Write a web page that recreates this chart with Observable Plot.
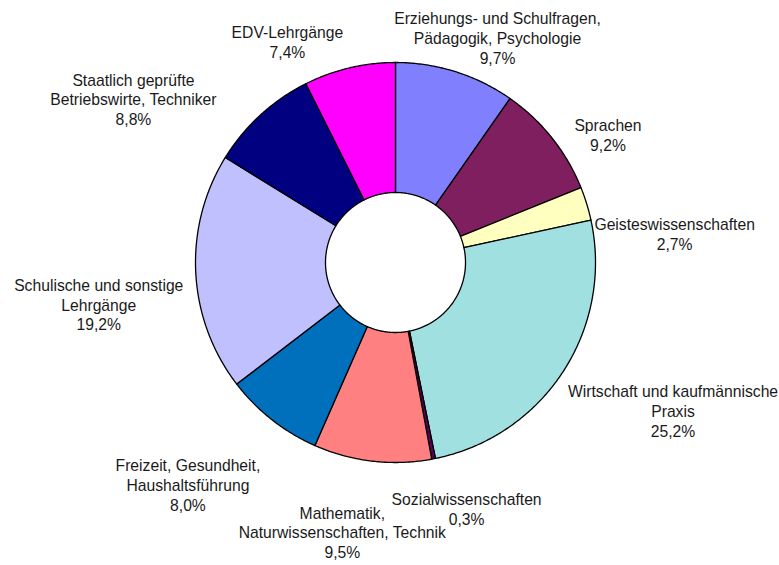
<!DOCTYPE html>
<html>
<head>
<meta charset="utf-8">
<script src="https://cdn.jsdelivr.net/npm/d3@7"></script>
<script src="https://cdn.jsdelivr.net/npm/@observablehq/plot@0.6"></script>
<style>
  html, body { margin: 0; padding: 0; background: #fff; }
  #chart svg { display: block; }
</style>
</head>
<body>
<div id="chart"></div>
<script>
// ---- data ----
const categories = [
  "Erziehungs- und Schulfragen,\nPädagogik, Psychologie",
  "Sprachen",
  "Geisteswissenschaften",
  "Wirtschaft und kaufmännische\nPraxis",
  "Sozialwissenschaften",
  "Mathematik,\nNaturwissenschaften, Technik",
  "Freizeit, Gesundheit,\nHaushaltsführung",
  "Schulische und sonstige\nLehrgänge",
  "Staatlich geprüfte\nBetriebswirte, Techniker",
  "EDV-Lehrgänge"
];
const values = [9.7, 9.2, 2.7, 25.2, 0.3, 9.5, 8.0, 19.2, 8.8, 7.4];
const colors = ["#8080FF", "#7F1F5F", "#FFFFC0", "#A0E0E0", "#5A005A",
                "#FF8080", "#0070BC", "#C0C0FF", "#000080", "#FF00FF"];
// label offsets (px) from the outer edge at each slice's mid-angle
const labelOffsets = [[42, -34], [56, -3], [88, 30], [110, 39], [33, 50],
                      [-30, 71], [-84, 65], [-97, 32], [-127, -16], [-62, -26]];

// ---- geometry ----
const W = 779, H = 565;
const cx = 395, cy = 262, pxPerUnit = 200; // pie center & outer radius in px
const rOuter = 1, rInner = 0.35;
const total = d3.sum(values);
const fmt = v => v.toFixed(1).replace(".", ",") + "%";

let acc = 0;
const slices = values.map((v, i) => {
  const a0 = acc / total * 2 * Math.PI;
  acc += v;
  const a1 = acc / total * 2 * Math.PI;
  return {i, name: categories[i], value: v, color: colors[i], a0, a1, mid: (a0 + a1) / 2};
});

const ringPoints = [];
for (const s of slices) {
  const n = Math.max(2, Math.ceil((s.a1 - s.a0) / (Math.PI / 360)));
  for (let k = 0; k <= n; k++) {
    const a = s.a0 + (s.a1 - s.a0) * k / n;
    ringPoints.push({slice: s.i, color: s.color, x: rOuter * Math.sin(a), y: rOuter * Math.cos(a)});
  }
  for (let k = n; k >= 0; k--) {
    const a = s.a0 + (s.a1 - s.a0) * k / n;
    ringPoints.push({slice: s.i, color: s.color, x: rInner * Math.sin(a), y: rInner * Math.cos(a)});
  }
}

const xDomain = [-cx / pxPerUnit, (W - cx) / pxPerUnit];
const yDomain = [-(H - cy) / pxPerUnit, cy / pxPerUnit];

const textMarks = slices.map(s => Plot.text([s], {
  x: d => rOuter * Math.sin(d.mid),
  y: d => rOuter * Math.cos(d.mid),
  text: d => d.name + "\n" + fmt(d.value),
  dx: labelOffsets[s.i][0],
  dy: labelOffsets[s.i][1],
  textAnchor: "middle",
  lineAnchor: "middle",
  lineHeight: 1.25,
  fontSize: 15.7,
  fontFamily: "Liberation Sans, Arial, sans-serif",
  fill: "#1a1a1a"
}));

const chart = Plot.plot({
  width: W,
  height: H,
  margin: 0,
  style: {background: "#fff"},
  x: {domain: xDomain, axis: null},
  y: {domain: yDomain, axis: null},
  marks: [
    Plot.line(ringPoints, {
      x: "x", y: "y", z: "slice", fill: "color",
      stroke: "#000", strokeWidth: 1.3, curve: "linear-closed", strokeLinejoin: "round"
    }),
    ...textMarks
  ]
});
document.getElementById("chart").appendChild(chart);
</script>
</body>
</html>
